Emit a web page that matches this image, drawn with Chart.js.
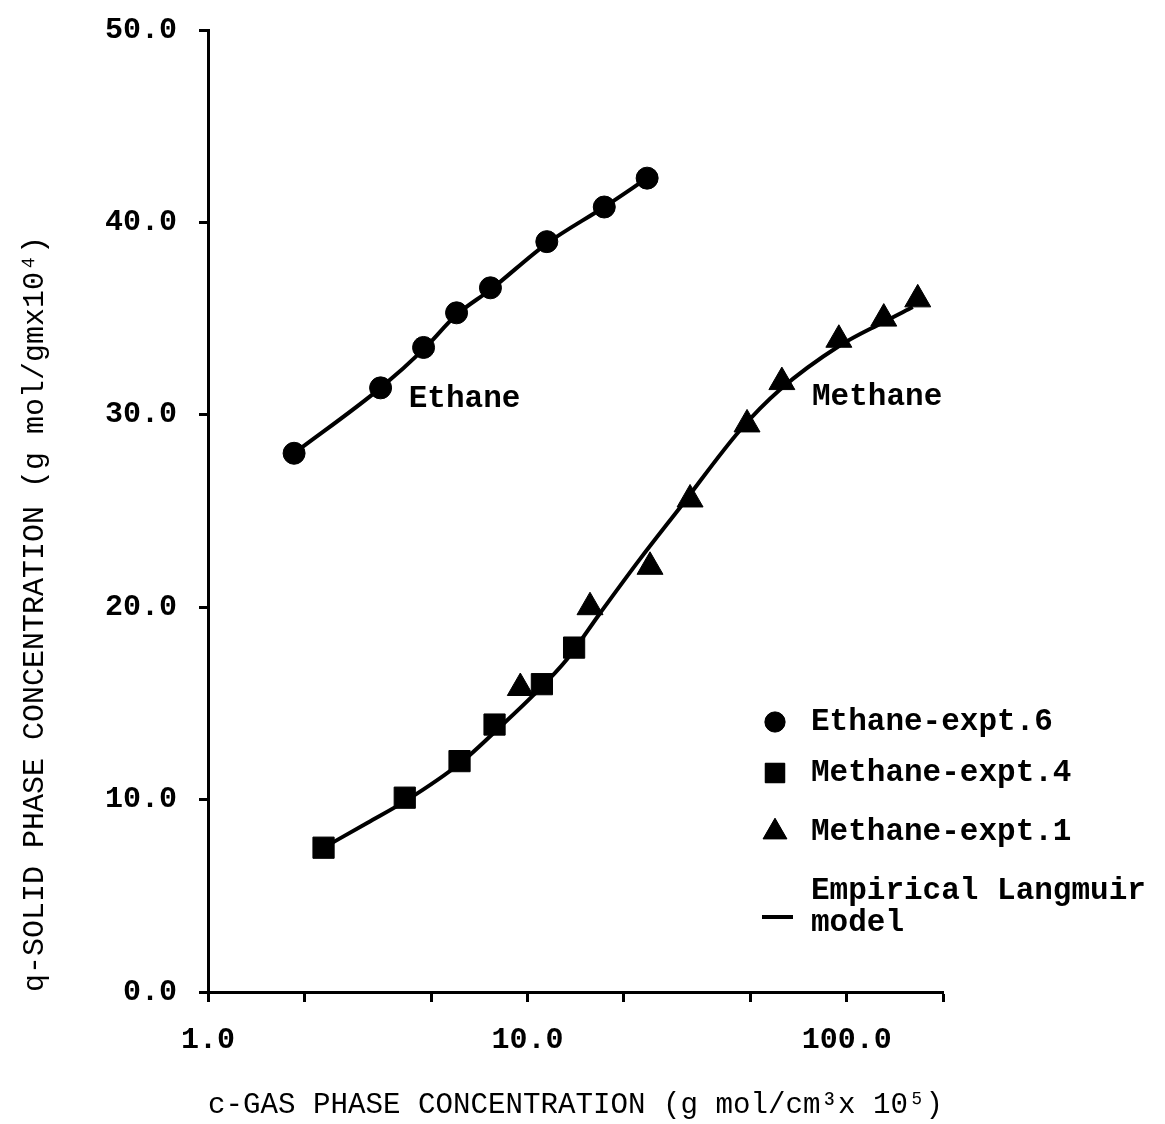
<!DOCTYPE html>
<html>
<head>
<meta charset="utf-8">
<title>Adsorption isotherms</title>
<script src="https://cdn.jsdelivr.net/npm/chart.js@4.4.1/dist/chart.umd.min.js"></script>
<style>
  html, body { margin: 0; padding: 0; background: #fff; }
  canvas { display: block; }
</style>
</head>
<body>
<canvas id="isotherm" width="1165" height="1124"></canvas>
<script>
// Gas phase concentration c (g mol/cm3 x 10^5) and solid phase q (g mol/gm x 10^4)
const ethaneC = [1.86, 3.47, 4.73, 6.0, 7.66, 11.5, 17.4, 23.7];
const ethaneQ = [28.0, 31.4, 33.5, 35.3, 36.6, 39.0, 40.8, 42.3];

const methane4C = [2.30, 4.13, 6.13, 7.89, 11.1, 14.0];
const methane4Q = [7.5, 10.1, 12.0, 13.9, 16.0, 17.9];

const methane1C = [9.5, 15.7, 24.2, 32.3, 48.7, 62.6, 94.4, 130.5, 166.7];
const methane1Q = [15.8, 20.0, 22.1, 25.6, 29.5, 31.7, 33.9, 35.0, 36.0];

// Empirical Langmuir model curves
const ethaneModelC = [1.86, 3.47, 4.73, 6.0, 7.66, 11.5, 17.4, 23.7];
const ethaneModelQ = [28.0, 31.4, 33.4, 35.2, 36.5, 38.9, 40.8, 42.3];

const methaneModelC = [2.30, 3.16, 4.22, 6.17, 8.24, 10.4, 13.3, 16.9, 22.5, 30.1, 46.3, 61.7, 95.1, 129.6, 160.8];
const methaneModelQ = [7.5, 8.8, 10.0, 11.9, 13.8, 15.4, 17.3, 19.7, 22.5, 25.2, 29.2, 31.3, 33.6, 34.8, 35.6];

// Axis ticks
const xTickValues = [1, 2, 5, 10, 20, 50, 100, 200];
const xTickLabels = ['1.0', '', '', '10.0', '', '', '100.0', ''];
const yTickValues = [0, 10, 20, 30, 40, 50];
const yTickLabels = ['0.0', '10.0', '20.0', '30.0', '40.0', '50.0'];

// Curve labels placed in data space
const curveLabels = [
  { text: 'Ethane', c: 4.25, q: 30.8 },
  { text: 'Methane', c: 77.8, q: 30.9 }
];

const pairs = (xs, ys) => xs.map((x, i) => ({ x: x, y: ys[i] }));

const MONO = "'Liberation Mono', 'DejaVu Sans Mono', monospace";

const pointSet = (label, xs, ys, style, radius) => ({
  label: label,
  data: pairs(xs, ys),
  pointStyle: style,
  pointRadius: radius,
  pointHoverRadius: radius,
  backgroundColor: '#000',
  borderColor: '#000',
  borderWidth: 1,
  showLine: false,
  order: 1
});

const modelSet = (label, xs, ys) => ({
  label: label,
  data: pairs(xs, ys),
  showLine: true,
  borderColor: '#000',
  borderWidth: 4,
  pointRadius: 0,
  cubicInterpolationMode: 'monotone',
  fill: false,
  order: 2
});

// Legend and curve names drawn inside the plot
const annotations = {
  id: 'annotations',
  afterDraw(chart) {
    const { ctx, chartArea, scales } = chart;
    ctx.save();
    ctx.fillStyle = '#000';
    ctx.strokeStyle = '#000';
    ctx.font = 'bold 31px ' + MONO;
    ctx.textBaseline = 'middle';
    ctx.textAlign = 'left';

    curveLabels.forEach(l => {
      ctx.fillText(l.text, scales.x.getPixelForValue(l.c), scales.y.getPixelForValue(l.q));
    });

    const mx = chartArea.left + 567;
    const tx = chartArea.left + 603;
    const rows = [
      { ds: 0, y: 722, text: 'Ethane-expt.6' },
      { ds: 1, y: 773, text: 'Methane-expt.4' },
      { ds: 2, y: 832, text: 'Methane-expt.1' }
    ];
    rows.forEach(r => {
      const d = chart.data.datasets[r.ds];
      Chart.helpers.drawPoint(ctx, {
        pointStyle: d.pointStyle,
        radius: d.pointRadius * 0.92,
        borderWidth: 1,
        rotation: 0
      }, mx, r.y);
      ctx.fill();
      ctx.fillText(r.text, tx, r.y);
    });

    ctx.lineWidth = 4;
    ctx.beginPath();
    ctx.moveTo(mx - 13, 917);
    ctx.lineTo(mx + 18, 917);
    ctx.stroke();
    ctx.fillText('Empirical Langmuir', tx, 891);
    ctx.fillText('model', tx, 923);
    ctx.restore();
  }
};

new Chart(document.getElementById('isotherm'), {
  type: 'scatter',
  data: {
    datasets: [
      pointSet('Ethane-expt.6', ethaneC, ethaneQ, 'circle', 11),
      pointSet('Methane-expt.4', methane4C, methane4Q, 'rect', 15),
      pointSet('Methane-expt.1', methane1C, methane1Q, 'triangle', 15),
      modelSet('Empirical Langmuir model', ethaneModelC, ethaneModelQ),
      modelSet('Empirical Langmuir model', methaneModelC, methaneModelQ)
    ]
  },
  options: {
    responsive: false,
    animation: false,
    layout: { padding: { left: 0, right: 222, top: 30, bottom: 0 } },
    plugins: {
      legend: { display: false },
      tooltip: { enabled: false }
    },
    scales: {
      x: {
        type: 'logarithmic',
        min: 1,
        max: 200,
        afterFit(scale) {
          scale.height = 132;
          scale.paddingLeft = 0;
          scale.paddingRight = 0;
        },
        afterBuildTicks(scale) { scale.ticks = xTickValues.map(v => ({ value: v })); },
        ticks: {
          autoSkip: false,
          maxRotation: 0,
          padding: 20,
          color: '#000',
          font: { family: MONO, size: 30, weight: 'bold' },
          callback: (v, i) => xTickLabels[i]
        },
        grid: {
          drawOnChartArea: false,
          drawTicks: true,
          tickLength: 10,
          tickWidth: 3,
          color: '#000'
        },
        border: { display: true, color: '#000', width: 3 },
        title: {
          display: true,
          text: 'c-GAS PHASE CONCENTRATION (g mol/cm³x 10⁵)',
          color: '#000',
          font: { family: MONO, size: 30, lineHeight: 1.2 },
          padding: { top: 0, bottom: 1 }
        }
      },
      y: {
        min: 0,
        max: 50,
        afterFit(scale) {
          scale.width = 208;
          scale.paddingTop = 0;
          scale.paddingBottom = 0;
        },
        afterBuildTicks(scale) { scale.ticks = yTickValues.map(v => ({ value: v })); },
        ticks: {
          padding: 22,
          color: '#000',
          font: { family: MONO, size: 30, weight: 'bold' },
          callback: (v, i) => yTickLabels[i]
        },
        grid: {
          drawOnChartArea: false,
          drawTicks: true,
          tickLength: 9,
          tickWidth: 3,
          color: '#000'
        },
        border: { display: true, color: '#000', width: 3 },
        title: {
          display: true,
          align: 'start',
          text: 'q-SOLID PHASE CONCENTRATION (g mol/gmx10⁴)',
          color: '#000',
          font: { family: MONO, size: 30, lineHeight: 1.2 },
          padding: { top: 17, bottom: 0 }
        }
      }
    }
  },
  plugins: [annotations]
});
</script>
</body>
</html>
